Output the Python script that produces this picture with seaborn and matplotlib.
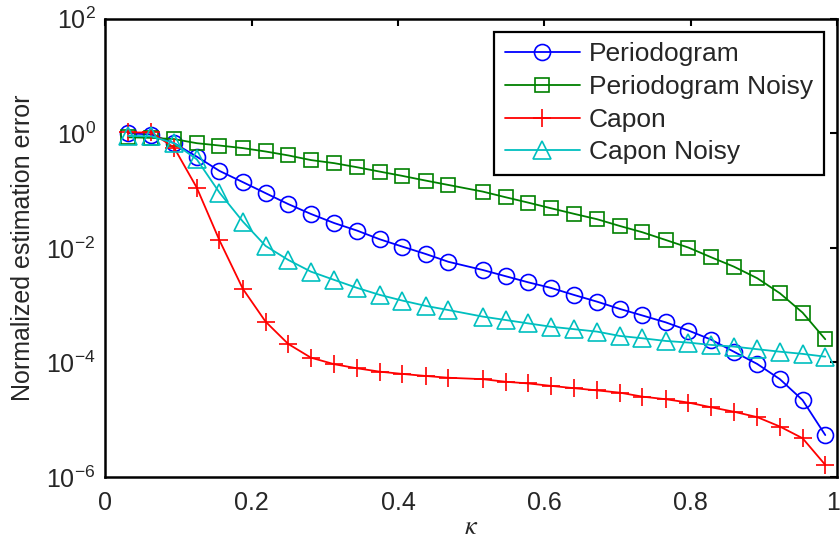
import numpy as np
import pandas as pd
import matplotlib
matplotlib.use("Agg")
import matplotlib.pyplot as plt
import matplotlib.transforms as mtransforms
import seaborn as sns
from matplotlib.ticker import FixedLocator, LogFormatterSciNotation, NullLocator

kappa = [0.031, 0.063, 0.094, 0.125, 0.156, 0.188, 0.219, 0.250, 0.281, 0.313,
         0.344, 0.375, 0.406, 0.438, 0.469, 0.516, 0.547, 0.578, 0.609, 0.641,
         0.672, 0.703, 0.734, 0.766, 0.797, 0.828, 0.859, 0.891, 0.922, 0.953, 0.984]

periodogram = [1.0, 0.95, 0.67, 0.39, 0.22, 0.14, 0.090, 0.058, 0.039, 0.027,
               0.020, 0.0141, 0.0105, 0.0078, 0.0057, 0.0041, 0.0032, 0.0025, 0.0020, 0.0015,
               0.00115, 0.00086, 0.00066, 0.00050, 0.00036, 0.00025, 0.000154, 9.4e-5, 5.1e-5, 2.2e-5,
               5.4e-6]

periodogram_noisy = [0.85, 0.83, 0.79, 0.67, 0.61, 0.55, 0.48, 0.41, 0.34, 0.30,
                     0.255, 0.214, 0.180, 0.149, 0.125, 0.0957, 0.0764, 0.0615, 0.0491, 0.0391,
                     0.0316, 0.0241, 0.0187, 0.0137, 0.0101, 0.00685, 0.0047, 0.00295, 0.00161, 0.00074,
                     0.000254]

capon = [1.03, 1.03, 0.56, 0.112, 0.0135, 0.00192, 0.000515, 0.00021, 0.000121, 9.3e-5,
         7.9e-5, 6.9e-5, 6.3e-5, 5.8e-5, 5.4e-5, 5.1e-5, 4.6e-5, 4.3e-5, 3.9e-5, 3.55e-5,
         3.25e-5, 2.97e-5, 2.53e-5, 2.28e-5, 1.99e-5, 1.65e-5, 1.38e-5, 1.11e-5, 7.6e-6, 4.75e-6,
         1.63e-6]

capon_noisy = [0.90, 0.88, 0.67, 0.35, 0.092, 0.0287, 0.0108, 0.00615, 0.00384, 0.00275,
               0.0020, 0.00151, 0.0012, 0.00097, 0.00082, 0.00063, 0.00055, 0.00048, 0.00042, 0.00038,
               0.000345, 0.00029, 0.000264, 0.000237, 0.000222, 0.000202, 0.000189, 0.000170, 0.000154, 0.000141,
               0.000126]

series_names = ["Periodogram", "Periodogram Noisy", "Capon", "Capon Noisy"]
series_values = [periodogram, periodogram_noisy, capon, capon_noisy]
x_ticks = [0, 0.2, 0.4, 0.6, 0.8, 1]
x_tick_labels = ["0", "0.2", "0.4", "0.6", "0.8", "1"]
y_ticks = [1e-6, 1e-4, 1e-2, 1e0, 1e2]

sns.set_style("white")
plt.rcParams["font.family"] = ["Liberation Sans", "DejaVu Sans"]
plt.rcParams["mathtext.fontset"] = "stix"

colors = ["#0000ff", "#008000", "#ff0000", "#00bfbf"]
markers = ["o", "s", "+", "^"]
msizes = [11.5, 9.5, 12.5, 12.5]

frames = []
for name, vals in zip(series_names, series_values):
    frames.append(pd.DataFrame({"kappa": kappa, "error": vals, "method": name}))
df = pd.concat(frames, ignore_index=True)

fig = plt.figure(figsize=(8.4, 5.43), dpi=100)
ax = fig.add_axes([0.1254, 0.1215, 0.871, 0.8442])

for name, c, m, ms in zip(series_names, colors, markers, msizes):
    sub = df[df["method"] == name]
    sns.lineplot(data=sub, x="kappa", y="error", ax=ax, color=c, marker=m,
                 markersize=ms, markerfacecolor="none", markeredgecolor=c,
                 markeredgewidth=1.2, linewidth=1.3, label=name, estimator=None,
                 sort=False)

ax.set_yscale("log")
ax.set_xlim(0, 1)
ax.set_ylim(1e-6, 1e2)
ax.xaxis.set_major_locator(FixedLocator(x_ticks))
ax.set_xticklabels(x_tick_labels)
ax.yaxis.set_major_locator(FixedLocator(y_ticks))
ax.yaxis.set_major_formatter(LogFormatterSciNotation())
ax.yaxis.set_minor_locator(NullLocator())
ax.xaxis.set_minor_locator(NullLocator())

ax.tick_params(axis="both", which="major", direction="in", length=5, width=1.5,
               labelsize=18, top=True, right=True, color="black", pad=7)
ax.tick_params(axis="x", pad=10)
for s in ax.spines.values():
    s.set_visible(True)
    s.set_color("black")
    s.set_linewidth(1.8)

# keep the last x tick label ("1") inside the canvas, as in the reference
last = ax.get_xticklabels()[-1]
last.set_transform(last.get_transform() +
                   mtransforms.ScaledTranslation(-4 / 100, 0, fig.dpi_scale_trans))

ax.set_xlabel(r"$\kappa$", fontsize=19, labelpad=0)
ax.set_ylabel("Normalized estimation error", fontsize=18, labelpad=8)
ax.grid(False)

leg = ax.legend(loc="upper right", fontsize=19, frameon=True, fancybox=False,
                handlelength=2.85, borderpad=0.4, labelspacing=0.33,
                handletextpad=0.35, borderaxespad=0.5)
leg.get_frame().set_edgecolor("black")
leg.get_frame().set_linewidth(1.6)
leg.get_frame().set_alpha(1)

fig.savefig("out.png", dpi=100, facecolor="white")
